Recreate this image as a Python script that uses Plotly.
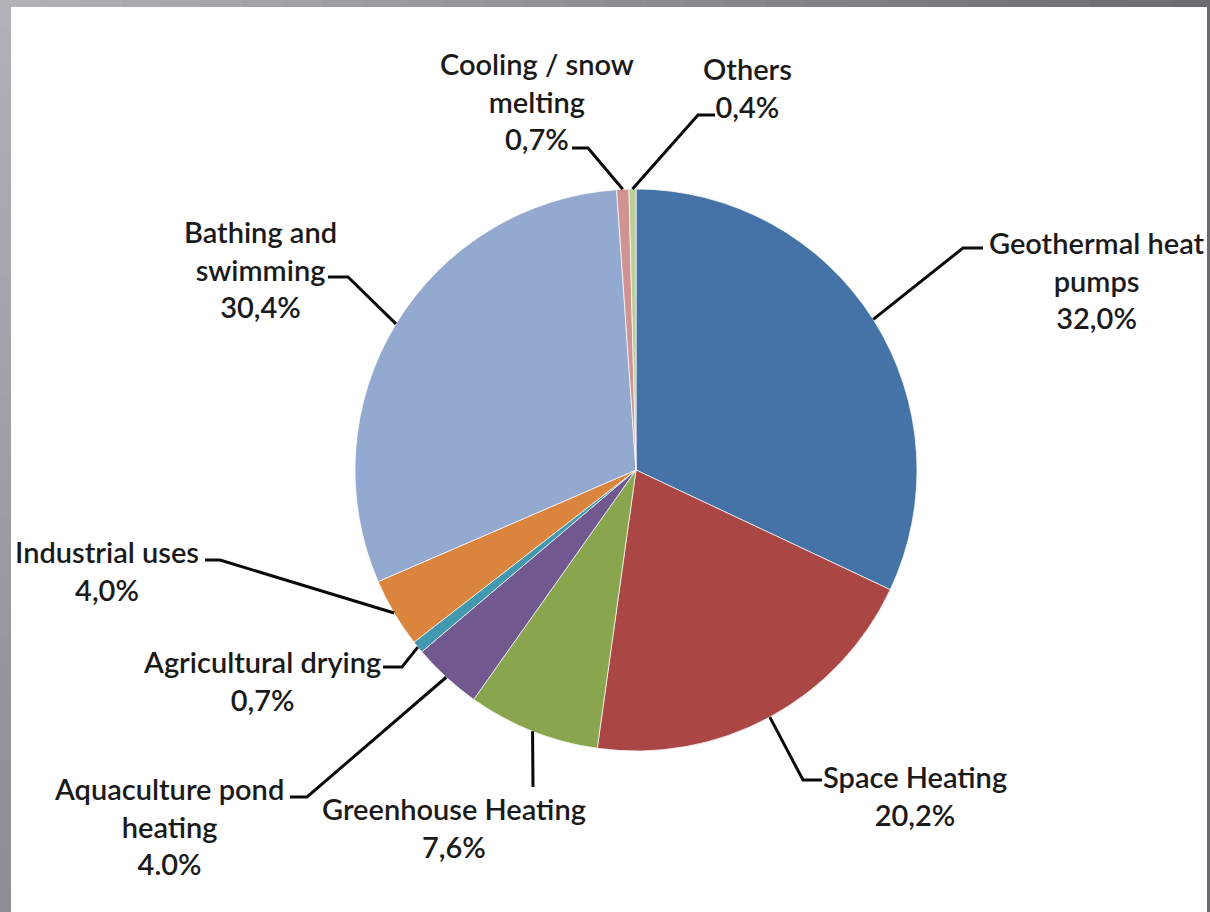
import math
import plotly.graph_objects as go

# ---------------- data ----------------
categories = [
    "Geothermal heat pumps", "Space Heating", "Greenhouse Heating",
    "Aquaculture pond heating", "Agricultural drying", "Industrial uses",
    "Bathing and swimming", "Cooling / snow melting", "Others",
]
values = [32.0, 20.2, 7.6, 4.0, 0.7, 4.0, 30.4, 0.7, 0.4]
# decimal separator as printed on the original chart
decimal_sep = [",", ",", ",", ".", ",", ",", ",", ",", ","]
label_lines = [
    "Geothermal heat<br>pumps", "Space Heating", "Greenhouse Heating",
    "Aquaculture pond<br>heating", "Agricultural drying", "Industrial uses",
    "Bathing and<br>swimming", "Cooling / snow<br>melting", "Others",
]
colors = ["#4572A7", "#AA4643", "#89A54E", "#71588F", "#4198AF",
          "#DB843D", "#93A9CF", "#D19392", "#B9CD96"]

# ---------------- layout (pixels) ----------------
W, H = 1210, 912
CX, CY, R = 636, 470, 281
# label block centres
label_pos = [(1097, 280), (915, 795), (454, 827), (169, 826), (262, 680),
             (107, 570), (260, 269), (537, 101), (747, 87)]
# leader elbows and ends
elbows = [(963, 248), (803, 780), (533, 787), (307, 797), (402, 667),
          (220, 560), (348, 277), (588, 148), (698, 115)]
ends = [(983, 248), (822, 780), (533, 787), (290, 797), (383, 667),
        (205, 560), (328, 277), (572, 148), (715, 115)]


def px(x):
    return x / W


def py(y):
    return 1 - y / H


fig = go.Figure()
fig.add_trace(go.Pie(
    labels=categories, values=values, sort=False, direction="clockwise",
    rotation=0, textinfo="none", hoverinfo="label+percent",
    marker=dict(colors=colors, line=dict(color="rgba(255,255,255,0.7)", width=1)),
    domain=dict(x=[px(CX - R), px(CX + R)], y=[py(CY + R), py(CY - R)]),
    showlegend=False,
))

shapes = []
annotations = []
total = sum(values)
cum = 0.0
for i, v in enumerate(values):
    mid = (cum + v / 2) / total * 2 * math.pi
    cum += v
    sx = CX + R * math.sin(mid)
    sy = CY - R * math.cos(mid)
    ex, ey = elbows[i]
    tx, ty = ends[i]
    path = f"M {px(sx)},{py(sy)} L {px(ex)},{py(ey)} L {px(tx)},{py(ty)}"
    shapes.append(dict(type="path", xref="paper", yref="paper", path=path,
                       line=dict(color="#0a0a0a", width=3)))
    pct = f"{v:.1f}".replace(".", decimal_sep[i]) + "%"
    lx, ly = label_pos[i]
    annotations.append(dict(
        x=px(lx), y=py(ly), xref="paper", yref="paper",
        text=f"{label_lines[i]}<br>{pct}", showarrow=False,
        xanchor="center", yanchor="middle", align="center",
        font=dict(family="Lato, Carlito, sans-serif", size=29, color="#1a1a1a",
                  weight=600),
    ))

# grey frame with a soft gradient
N = 30
for k in range(N):
    t = k / (N - 1)
    # top strip: light on the left, darker on the right
    c1 = (int(179 - 68 * t), int(176 - 69 * t), int(184 - 70 * t))
    shapes.append(dict(type="rect", xref="paper", yref="paper",
                       x0=k / N, x1=(k + 1) / N + 0.001, y0=py(7), y1=1,
                       fillcolor=f"rgb{c1}", line=dict(width=0), layer="above"))
    # left strip: light at the top, darker at the bottom
    c2 = (int(179 - 36 * t), int(176 - 35 * t), int(184 - 36 * t))
    shapes.append(dict(type="rect", xref="paper", yref="paper",
                       x0=0, x1=px(11), y0=1 - (k + 1) / N - 0.001, y1=1 - k / N,
                       fillcolor=f"rgb{c2}", line=dict(width=0), layer="above"))
shapes.append(dict(type="rect", xref="paper", yref="paper",
                   x0=px(1207), x1=1, y0=0, y1=1,
                   fillcolor="#6c6a70", line=dict(width=0), layer="above"))

fig.update_layout(
    width=W, height=H, margin=dict(l=0, r=0, t=0, b=0),
    paper_bgcolor="white", plot_bgcolor="white",
    shapes=shapes, annotations=annotations,
)
fig.write_html("out.html")
